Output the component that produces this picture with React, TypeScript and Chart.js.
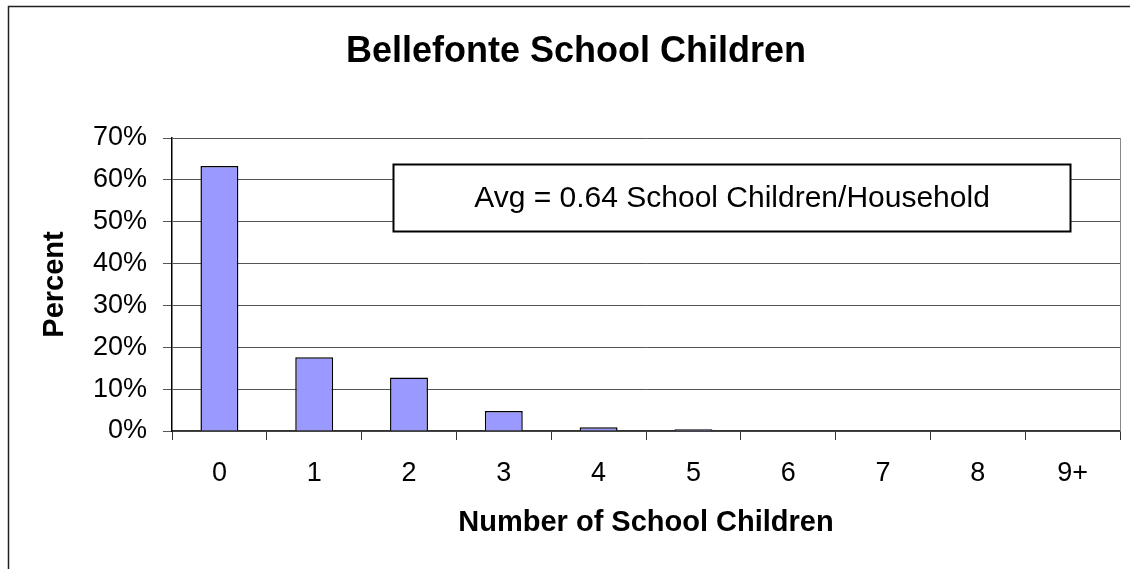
import React, { useEffect, useRef } from "react";
import { Chart, registerables } from "chart.js";

Chart.register(...registerables);

const categories = ["0", "1", "2", "3", "4", "5", "6", "7", "8", "9+"];
const percentValues = [63.3, 17.6, 12.8, 4.8, 0.9, 0.4, 0, 0, 0, 0];
const yTickMax = 70;
const yTickStep = 10;
const chartTitle = "Bellefonte School Children";
const xTitle = "Number of School Children";
const yTitle = "Percent";
const annotationText = "Avg = 0.64 School Children/Household";

const FONT = "'Liberation Sans', Arial, sans-serif";

const decorPlugin = {
  id: "decor",
  afterDraw(chart: any) {
    const { ctx, chartArea, scales } = chart;
    ctx.save();
    // outer frame
    ctx.strokeStyle = "#222";
    ctx.lineWidth = 1.5;
    ctx.strokeRect(8.5, 6.5, 1140, 600);
    // plot area right border
    ctx.strokeStyle = "#888";
    ctx.lineWidth = 1;
    ctx.beginPath();
    ctx.moveTo(Math.round(chartArea.right) + 0.5, chartArea.top);
    ctx.lineTo(Math.round(chartArea.right) + 0.5, chartArea.bottom);
    ctx.stroke();
    // annotation box
    const w = chartArea.right - chartArea.left;
    const x1 = Math.round(chartArea.left + w * 0.2331) + 0.5;
    const x2 = Math.round(chartArea.left + w * 0.9473) + 0.5;
    const y1 = Math.round(scales.y.getPixelForValue(63.8)) + 0.5;
    const y2 = Math.round(scales.y.getPixelForValue(47.8)) + 0.5;
    ctx.fillStyle = "#fff";
    ctx.fillRect(x1, y1, x2 - x1, y2 - y1);
    ctx.strokeStyle = "#000";
    ctx.lineWidth = 2;
    ctx.strokeRect(x1, y1, x2 - x1, y2 - y1);
    ctx.fillStyle = "#000";
    ctx.font = `30px ${FONT}`;
    ctx.textAlign = "center";
    ctx.textBaseline = "middle";
    ctx.fillText(annotationText, (x1 + x2) / 2, (y1 + y2) / 2 + 1);
    ctx.restore();
  },
};

export default function App() {
  const ref = useRef<HTMLCanvasElement>(null);
  useEffect(() => {
    if (!ref.current) return;
    const chart = new Chart(ref.current, {
      type: "bar",
      data: {
        labels: categories,
        datasets: [
          {
            data: percentValues,
            backgroundColor: "#9999FF",
            borderColor: "#000",
            borderWidth: (c: any) => (c.raw === 0 ? 0 : 1.5),
            barPercentage: 0.4,
            categoryPercentage: 1,
          },
        ],
      },
      options: {
        responsive: false,
        animation: false,
        devicePixelRatio: 1,
        layout: { padding: { left: 32, top: 0, right: 10, bottom: 0 } },
        plugins: {
          legend: { display: false },
          tooltip: { enabled: false },
          title: {
            display: true,
            text: chartTitle,
            color: "#000",
            font: { family: FONT, size: 36, weight: "bold" },
            padding: { top: 30, bottom: 64.8 },
          },
        },
        scales: {
          x: {
            offset: true,
            grid: { drawOnChartArea: false, drawTicks: true, tickLength: 9, color: "#333", offset: true },
            border: { color: "#333", width: 1.5 },
            ticks: { color: "#000", padding: 17, font: { family: FONT, size: 27 }, maxRotation: 0 },
            title: {
              display: true,
              text: xTitle,
              color: "#000",
              font: { family: FONT, size: 29, weight: "bold" },
              padding: { top: 0, bottom: 28.6 },
            },
            afterFit: (s: any) => {
              s.height = 138;
            },
          },
          y: {
            min: 0,
            max: yTickMax,
            grid: { color: "#555", tickLength: 9, lineWidth: 1 },
            border: { color: "#000", width: 1.5 },
            ticks: {
              stepSize: yTickStep,
              color: "#000",
              padding: 16,
              font: { family: FONT, size: 27 },
              callback: (v: any) => v + "%",
            },
            title: {
              display: true,
              text: yTitle,
              color: "#000",
              font: { family: FONT, size: 29, weight: "bold" },
              padding: { top: 5.6, bottom: 0 },
            },
            afterFit: (s: any) => {
              s.width = 140;
            },
          },
        },
      },
      plugins: [decorPlugin],
    } as any);
    return () => chart.destroy();
  }, []);
  return (
    <div style={{ position: "absolute", left: 0, top: 0, width: 1130, height: 569, background: "#fff" }}>
      <canvas ref={ref} width={1130} height={569} />
    </div>
  );
}
